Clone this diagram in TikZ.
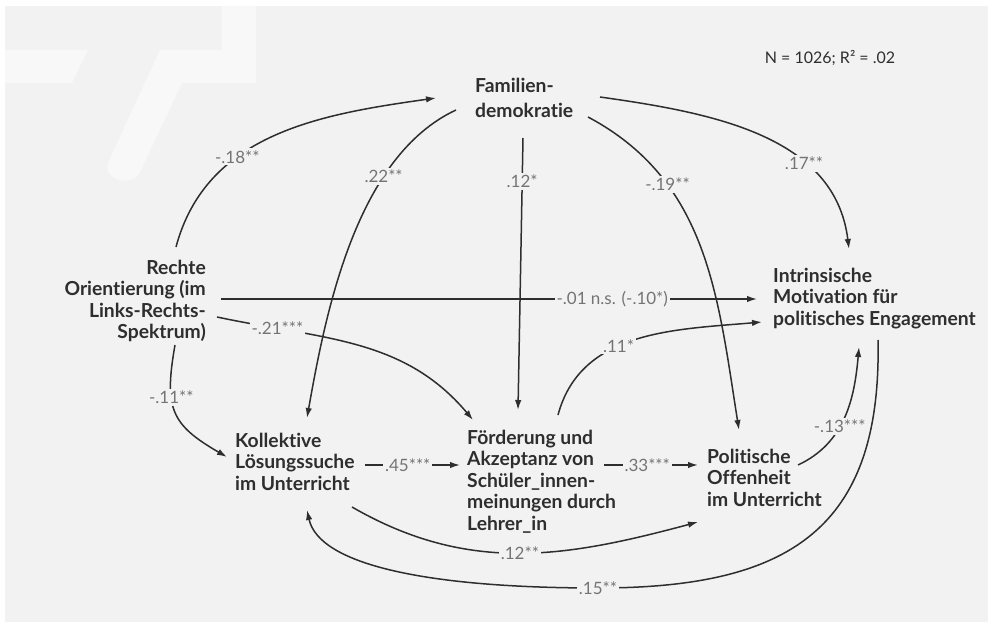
\documentclass[tikz,border=0pt]{standalone}
\usepackage{fontspec}
\setmainfont{Lato}[Ligatures=NoCommon]
\usetikzlibrary{arrows.meta}

\definecolor{bggray}{HTML}{F2F2F2}
\definecolor{markgray}{HTML}{F8F8F8}
\definecolor{inkgray}{HTML}{2E2E2E}
\definecolor{coefgray}{HTML}{747474}

\tikzset{
  var/.style={inner sep=0pt, align=left, text=inkgray,
    font=\fontsize{19.3}{21.4}\selectfont\bfseries},
  link/.style={line width=1.5pt, draw=inkgray,
    -{Latex[length=10pt,width=6.5pt]}},
  coef/.style={fill=bggray, inner sep=2pt, text=coefgray,
    font=\fontsize{17}{19}\selectfont},
}

\begin{document}
\begin{tikzpicture}[x=1pt,y=1pt]
  % \draw[help lines] (0,0) grid[step=50] (989,-623);
  \useasboundingbox (0,0) rectangle (989,-623);
  \fill[bggray] (5,-6) rectangle (988,-622);

  % faint mark top left
  \fill[markgray] (5,-50) -- (88,-50) -- (72,-83) -- (5,-83) -- cycle;
  \fill[markgray] (222,-6) -- (256,-6) -- (256,-83) -- (182,-83) -- (140,-172)
    .. controls (133,-188) and (102,-180) .. (108,-163) -- (160,-50) -- (222,-50) -- cycle;

  % variables
  \node[var, anchor=north west, font=\fontsize{19.3}{25}\selectfont\bfseries]
    (fam) at (475,-78) {Familien-\\demokratie};
  \node[var, anchor=north east, align=right] (rechts) at (206,-260)
    {Rechte\\Orientierung (im\\Links-Rechts-\\Spektrum)};
  \node[var, anchor=north west] (koll) at (235,-433)
    {Kollektive\\Lösungssuche\\im Unterricht};
  \node[var, anchor=north west] (foerd) at (467,-430)
    {Förderung und\\Akzeptanz von\\Schüler\_innen-\\meinungen durch\\Lehrer\_in};
  \node[var, anchor=north west] (polit) at (707,-449)
    {Politische\\Offenheit\\im Unterricht};
  \node[var, anchor=north west] (intr) at (773,-268)
    {Intrinsische\\Motivation für\\politisches Engagement};

  \node[text=inkgray, font=\fontsize{16}{18}\selectfont] (nstat) at (830,-58)
    {N = 1026; R² = .02};

  % paths
  \draw[link] ([shift={(-30,13)}]rechts.north east) to[out=75,in=188]
    node[coef, pos=0.36] {-.18**} ([shift={(-39,-20)}]fam.north west);
  \draw[link] ([shift={(-19,-32)}]fam.north west) to[out=205,in=80,looseness=0.82]
    node[coef, pos=0.3] {.22**} ([shift={(72,15)}]koll.north west);
  \draw[link] ([shift={(48,-60)}]fam.north west) --
    node[coef, pos=0.16] {.12*} ([shift={(51,20)}]foerd.north west);
  \draw[link] ([shift={(113,-39)}]fam.north west) to[out=-28,in=99]
    node[coef, pos=0.29] {-.19**} ([shift={(32,19)}]polit.north west);
  \draw[link] ([shift={(125,-19)}]fam.north west) to[out=-8,in=97]
    node[coef, pos=0.67] {.17**} ([shift={(76,19)}]intr.north west);

  \draw[link] ([shift={(15,-39)}]rechts.north east) --
    node[coef, pos=0.73] {-.01 n.s. (-.10*)} ([shift={(-16,-31)}]intr.north west);
  \draw[link] ([shift={(11,-57)}]rechts.north east) to[out=-12,in=130]
    node[coef, pos=0.2] {-.21***} ([shift={(6,10)}]foerd.north west);
  \draw[link] ([shift={(-31,-85)}]rechts.north east) to[out=-100,in=150,looseness=1.34]
    node[coef, pos=0.35] {-.11**} ([shift={(-8,-24)}]koll.north west);

  \draw[link] ([shift={(130,-32)}]koll.north west) --
    node[coef, pos=0.45] {.45***} ([shift={(-7,-35)}]foerd.north west);
  \draw[link] ([shift={(137,-35)}]foerd.north west) --
    node[coef, pos=0.46] {.33***} ([shift={(-9,-16)}]polit.north west);
  \draw[link] ([shift={(91,15)}]foerd.north west) to[out=75,in=185]
    node[coef, pos=0.42] {.11*} ([shift={(-11,-54)}]intr.north west);
  \draw[link] ([shift={(91,-16)}]polit.north west) to[out=25,in=-95]
    node[coef, pos=0.42] {-.13***} ([shift={(86,-79)}]intr.north west);

  \draw[link] ([shift={(117,-74)}]koll.north west) to[out=-30,in=195]
    node[coef, pos=0.5] {.12**} ([shift={(-9,-73)}]polit.north west);
  \draw[link] ([shift={(105,-72)}]intr.north west)
    .. controls +(4,-190) and +(190,0) .. (598,-588) node[coef] {.15**}
    .. controls +(-170,0) and +(12,-55) .. ([shift={(72,-77)}]koll.north west);
\end{tikzpicture}
\end{document}
